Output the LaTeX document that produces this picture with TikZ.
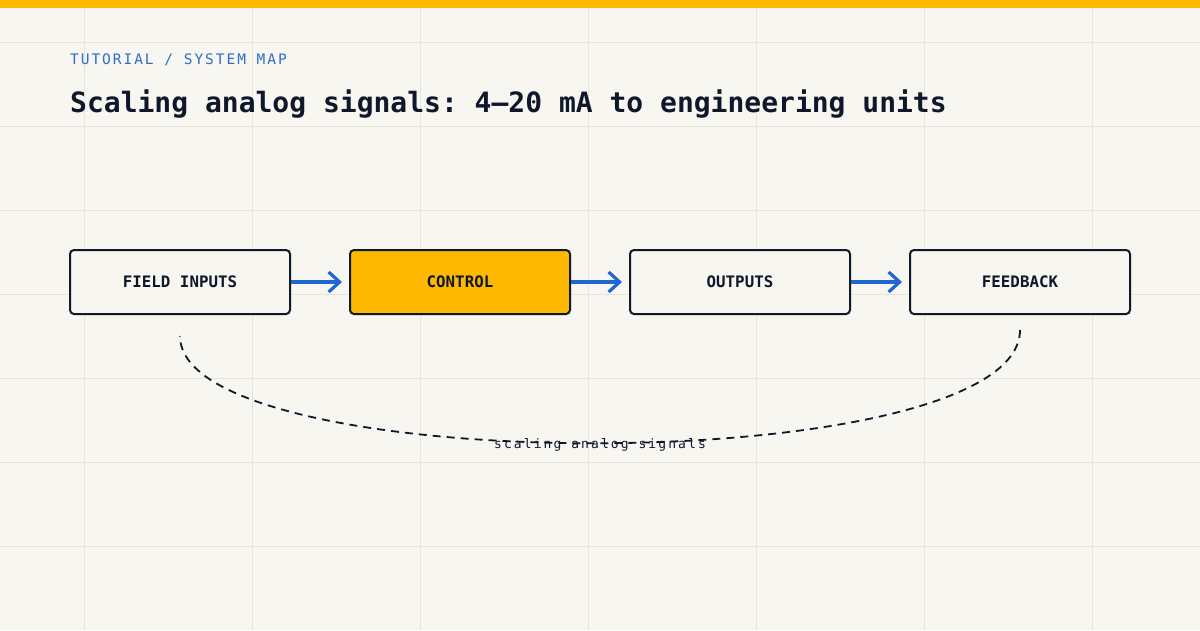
\documentclass[tikz,border=0pt]{standalone}
\usepackage{fontspec}
\setmonofont{DejaVu Sans Mono}
\usetikzlibrary{arrows.meta}
\definecolor{bgc}{HTML}{F7F6F1}
\definecolor{gridc}{HTML}{E6E4DC}
\definecolor{navy}{HTML}{0F172A}
\definecolor{amber}{HTML}{FFB800}
\definecolor{blueline}{HTML}{1F66D1}
\definecolor{bluetext}{HTML}{2F6CCB}
\tikzset{
  box/.style={draw=navy, line width=2pt, rounded corners=4pt, minimum width=220pt, minimum height=64pt, fill=bgc, inner sep=0pt, text=navy, font=\ttfamily\bfseries\fontsize{15.8}{18}\selectfont},
  hotbox/.style={box, fill=amber},
  flow/.style={draw=blueline, line width=3.2pt, -{Straight Barb[length=11pt,width=20pt,line width=3.2pt]}, shorten >=7pt},
  loop/.style={draw=navy, line width=1.8pt, dash pattern=on 8pt off 6pt},
}
\begin{document}
\begin{tikzpicture}[x=1pt,y=-1pt]
\fill[bgc] (0,0) rectangle (1200,630);
\useasboundingbox (0,0) rectangle (1200,630);
\foreach \gx in {84,252,420,588,756,924,1092} \draw[gridc, line width=1pt] (\gx,0) -- (\gx,630);
\foreach \gy in {42,126,210,294,378,462,546} \draw[gridc, line width=1pt] (0,\gy) -- (1200,\gy);
\fill[amber] (0,0) rectangle (1200,8);
\node[anchor=base west, inner sep=0pt, text=bluetext, font=\ttfamily\fontsize{14.5}{17}\selectfont\addfontfeature{LetterSpace=13.5}] (kicker) at (70,64) {TUTORIAL / SYSTEM MAP};
\node[anchor=base west, inner sep=0pt, text=navy, font=\ttfamily\bfseries\fontsize{28}{32}\selectfont] (title) at (70,112) {Scaling analog signals: 4–20 mA to engineering units};
\node[box] (fi) at (180,282) {\raisebox{-1pt}{FIELD INPUTS}};
\node[hotbox] (ct) at (460,282) {\raisebox{-1pt}{CONTROL}};
\node[box] (op) at (740,282) {\raisebox{-1pt}{OUTPUTS}};
\node[box] (fb) at (1020,282) {\raisebox{-1pt}{FEEDBACK}};
\draw[flow] (fi.east) -- (ct.west);
\draw[flow] (ct.east) -- (op.west);
\draw[flow] (op.east) -- (fb.west);
\coordinate (ls) at (180,336);
\coordinate (rs) at (1020,330);
\draw[loop] (rs) .. controls (1020,480) and (180,480) .. (ls);
\node[inner sep=0pt, text=navy, font=\ttfamily\fontsize{13}{15}\selectfont\addfontfeature{LetterSpace=16}] (lbl) at (600,445) {scaling analog signals};
\end{tikzpicture}
\end{document}
